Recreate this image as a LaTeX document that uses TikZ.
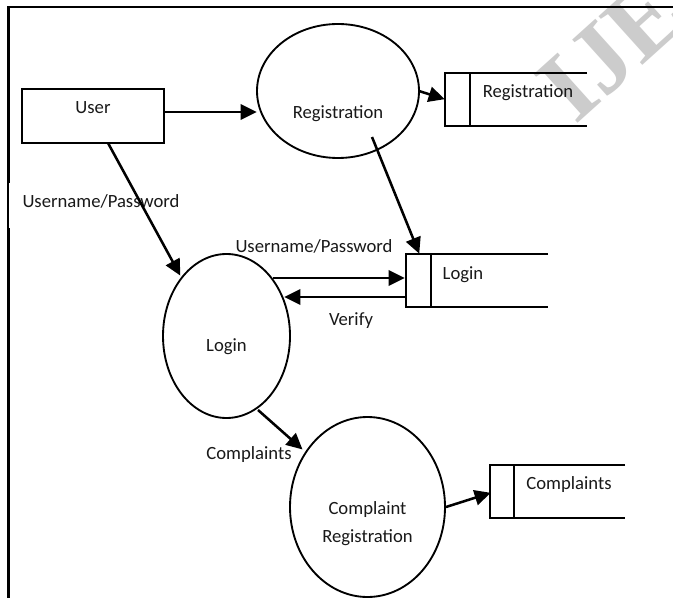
\documentclass[tikz,border=0pt]{standalone}
\usepackage{fontspec}
\setmainfont{Carlito}
\usetikzlibrary{arrows.meta}
\tikzset{
  shp/.style={draw=black,line width=1.4pt,fill=none},
  wire/.style={draw=black,line width=1.9pt,-{Triangle[length=12pt,width=11.5pt]},shorten >=-0.5pt},
  lbl/.style={inner sep=0pt,text=black!90,font=\fontsize{14pt}{17pt}\selectfont,align=center},
  frame/.style={draw=black,line width=2pt},
}
\begin{document}
\begin{tikzpicture}[x=0.75pt,y=-0.75pt]
\useasboundingbox (0,0) rectangle (673,598);
\clip (0,0) rectangle (673,598);
\fill[white] (0,0) rectangle (673,598);
% watermark
\node[rotate=42,anchor=base west,text=black!20,font=\fontspec{Liberation Serif}\bfseries\fontsize{75pt}{75pt}\selectfont,inner sep=0pt] (wm) at (575,126) {IJE};
% frame
\draw[frame] (673,7) -- (8.7,7) -- (8.7,598);
\fill[white] (9,183) rectangle (16,228);
% nodes
\node[shp,minimum width=106.5pt,minimum height=40.5pt,inner sep=0pt] (user) at (93,116) {};
\node[lbl] (userT) at (93,108) {User};
\draw[shp] (338,91) ellipse [x radius=81,y radius=67];
\node[lbl] (regT) at (338,114) {Registration};
\draw[shp] (226.5,336) ellipse [x radius=63.5,y radius=82];
\node[lbl] (logT) at (226.5,347) {Login};
\draw[shp] (367.5,507) ellipse [x radius=77.5,y radius=90];
\node[lbl,text width=120pt] (crT) at (367.5,523.5) {Complaint\\[4pt]Registration};
% stores
\draw[shp] (587,73) -- (445,73) -- (445,126) -- (587,126);
\draw[shp] (470,73) -- (470,126);
\node[lbl] (s1) at (528,93) {Registration};
\draw[shp] (548,254) -- (406,254) -- (406,307) -- (548,307);
\draw[shp] (431,254) -- (431,307);
\node[lbl] (s2) at (463,275) {Login};
\draw[shp] (625,465) -- (490,465) -- (490,518) -- (625,518);
\draw[shp] (514,465) -- (514,518);
\node[lbl] (s3) at (569,485) {Complaints};
% free labels
\node[lbl] (l1) at (101,201) {Username/Password};
\node[lbl] (l2) at (314,246) {Username/Password};
\node[lbl] (l3) at (351,321) {Verify};
\node[lbl] (l4) at (249,455) {Complaints};
% connector ends
\coordinate (a1) at (164,112);
\coordinate (a2) at (256,112);
\coordinate (b1) at (108,143);
\coordinate (b2) at (180,275);
\coordinate (c1) at (419,91);
\coordinate (c2) at (444,99);
\coordinate (d1) at (372,137);
\coordinate (d2) at (419,253);
\coordinate (e1) at (273,278);
\coordinate (e2) at (404,278);
\coordinate (f1) at (406,297);
\coordinate (f2) at (285,297);
\coordinate (g1) at (258,410);
\coordinate (g2) at (302,449);
\coordinate (h1) at (446,507);
\coordinate (h2) at (490,493);
\draw[wire] (a1) -- (a2);
\draw[wire] (b1) -- (b2);
\draw[wire] (c1) -- (c2);
\draw[wire] (d1) -- (d2);
\draw[wire] (e1) -- (e2);
\draw[wire] (f1) -- (f2);
\draw[wire] (g1) -- (g2);
\draw[wire] (h1) -- (h2);
\end{tikzpicture}
\end{document}
